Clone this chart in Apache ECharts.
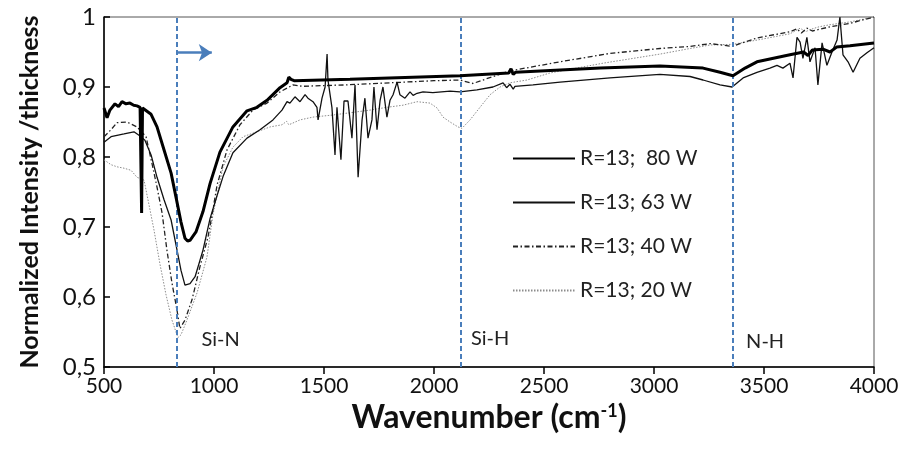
<!DOCTYPE html>
<html>
<head>
<meta charset="utf-8">
<script src="https://cdn.jsdelivr.net/npm/echarts@6/dist/echarts.min.js"></script>
<style>
html, body { margin: 0; padding: 0; background: #fff; }
#chart { width: 906px; height: 457px; }
</style>
</head>
<body>
<div id="chart"></div>
<script>
// 光譜數據 [波數, 強度]
var s80 = [
    [500,0.870],[514,0.856],[527,0.867],[550,0.876],[566,0.872],[582,0.879],[600,0.876],[618,0.877],
    [635,0.874],[650,0.873],[664,0.871],[668,0.870],[671,0.720],[675,0.870],[682,0.869],[714,0.861],
    [741,0.843],[773,0.810],[805,0.777],[827,0.743],[850,0.707],[868,0.684],[880,0.680],[891,0.681],
    [918,0.693],[950,0.722],[982,0.762],[1027,0.807],[1086,0.843],[1150,0.866],[1195,0.871],[1241,0.881],
    [1300,0.899],[1332,0.906],[1340,0.914],[1350,0.911],[1364,0.909],[1618,0.911],[2118,0.916],[2340,0.920],
    [2350,0.926],[2360,0.918],[2370,0.921],[2755,0.927],[3027,0.930],[3223,0.927],[3300,0.921],[3359,0.916],
    [3414,0.927],[3468,0.936],[3618,0.946],[3680,0.950],[3700,0.945],[3720,0.953],[3768,0.954],[3800,0.950],
    [3830,0.957],[3891,0.959],[4000,0.963]
];
var s63 = [
    [500,0.821],[532,0.829],[559,0.831],[591,0.833],[636,0.836],[659,0.831],[686,0.824],[714,0.803],
    [741,0.771],[773,0.739],[805,0.710],[832,0.667],[850,0.638],[868,0.617],[891,0.619],[914,0.629],
    [950,0.667],[982,0.712],[1014,0.745],[1041,0.772],[1086,0.806],[1150,0.827],[1209,0.839],[1268,0.853],
    [1309,0.867],[1332,0.879],[1345,0.877],[1368,0.886],[1391,0.879],[1414,0.889],[1427,0.884],[1450,0.879],
    [1468,0.871],[1473,0.853],[1491,0.884],[1505,0.900],[1514,0.947],[1518,0.910],[1536,0.871],[1550,0.803],
    [1559,0.871],[1577,0.796],[1591,0.880],[1609,0.880],[1627,0.827],[1641,0.903],[1655,0.771],[1673,0.853],
    [1686,0.884],[1700,0.827],[1718,0.853],[1727,0.900],[1741,0.839],[1755,0.881],[1768,0.900],[1786,0.857],
    [1800,0.881],[1814,0.889],[1832,0.907],[1845,0.889],[1868,0.884],[1891,0.893],[1905,0.888],[1923,0.891],
    [1950,0.893],[1995,0.892],[2073,0.894],[2118,0.893],[2195,0.896],[2268,0.900],[2314,0.906],[2330,0.899],
    [2345,0.904],[2360,0.897],[2368,0.901],[2450,0.903],[2573,0.907],[2800,0.913],[3027,0.918],[3164,0.915],
    [3223,0.910],[3300,0.903],[3355,0.900],[3405,0.913],[3468,0.921],[3527,0.927],[3559,0.931],[3586,0.927],
    [3618,0.934],[3632,0.913],[3650,0.971],[3664,0.964],[3677,0.941],[3695,0.971],[3709,0.936],[3732,0.956],
    [3745,0.903],[3764,0.963],[3786,0.931],[3809,0.950],[3832,0.967],[3845,1.000],[3859,0.946],[3882,0.936],
    [3905,0.921],[3936,0.941],[3968,0.949],[4000,0.956]
];
var s40 = [
    [500,0.829],[532,0.839],[559,0.849],[605,0.850],[650,0.843],[691,0.829],[718,0.791],[741,0.757],
    [764,0.720],[786,0.667],[809,0.620],[832,0.581],[845,0.555],[868,0.567],[900,0.596],[936,0.643],
    [973,0.686],[991,0.717],[1014,0.760],[1059,0.810],[1118,0.846],[1177,0.867],[1241,0.877],[1300,0.893],
    [1359,0.903],[1400,0.901],[1600,0.903],[1800,0.906],[2000,0.909],[2118,0.910],[2177,0.905],[2250,0.913],
    [2345,0.923],[2573,0.936],[2800,0.948],[3027,0.955],[3164,0.958],[3255,0.962],[3355,0.958],[3400,0.963],
    [3468,0.970],[3618,0.979],[3650,0.983],[3670,0.977],[3695,0.984],[3720,0.980],[3800,0.986],[3891,0.991],
    [4000,1.000]
];
var s20 = [
    [500,0.796],[532,0.789],[559,0.786],[591,0.784],[623,0.781],[650,0.771],[682,0.767],[705,0.731],
    [727,0.696],[755,0.646],[782,0.603],[809,0.567],[836,0.542],[850,0.546],[877,0.567],[923,0.606],
    [968,0.657],[995,0.717],[1041,0.786],[1086,0.814],[1132,0.829],[1195,0.836],[1255,0.843],[1309,0.846],
    [1330,0.851],[1340,0.846],[1391,0.853],[1450,0.857],[1541,0.860],[1709,0.867],[1786,0.871],[1859,0.874],
    [1923,0.879],[1982,0.877],[2014,0.870],[2041,0.857],[2073,0.850],[2109,0.843],[2127,0.841],[2164,0.853],
    [2209,0.871],[2255,0.889],[2300,0.900],[2345,0.906],[2423,0.910],[2527,0.920],[2768,0.934],[3027,0.947],
    [3164,0.955],[3255,0.960],[3359,0.961],[3468,0.967],[3618,0.976],[3664,0.984],[3690,0.979],[3709,0.982],
    [3750,0.986],[3800,0.989],[3891,0.993],[4000,1.000]
];
var seriesNames = ['R=13;  80 W', 'R=13; 63 W', 'R=13; 40 W', 'R=13; 20 W'];

// 吸收帶位置與標籤
var bandPos = [830, 2120, 3360];
var bandLabelNames = ['Si-N', 'Si-H', 'N-H'];
var bandLabelX = [1030, 2255, 3505];
var bandLabelY = [0.539, 0.541, 0.536];
var arrowFrom = [830, 0.949];
var arrowTo = [990, 0.949];

var FONT = 'Lato, "Open Sans", sans-serif';
var BLUE = '#4a7ebb';

var chart = echarts.init(document.getElementById('chart'));

var bandLines = bandPos.map(function (x) { return { xAxis: x }; });
var bandLabels = bandLabelNames.map(function (n, i) {
    return { name: n, coord: [bandLabelX[i], bandLabelY[i]] };
});

var option = {
    animation: false,
    backgroundColor: '#fff',
    grid: {
        left: 104, right: 32, top: 17, bottom: 90,
        show: true, borderColor: '#555', borderWidth: 1
    },
    legend: {
        orient: 'vertical',
        left: 507, top: 143,
        itemWidth: 62, itemHeight: 14, itemGap: 23,
        data: seriesNames,
        itemStyle: { opacity: 0 },
        textStyle: { fontFamily: FONT, fontSize: 21, color: '#222' }
    },
    xAxis: {
        type: 'value',
        min: 500, max: 4000, interval: 500,
        name: 'Wavenumber (cm{sup|-1})',
        nameLocation: 'middle',
        nameGap: 29,
        nameTextStyle: {
            fontFamily: FONT, fontSize: 32, fontWeight: 'bold', color: '#111',
            rich: { sup: { fontFamily: FONT, fontSize: 18, fontWeight: 'bold', verticalAlign: 'top', color: '#111' } }
        },
        axisLine: { lineStyle: { color: '#000', width: 1.5 } },
        axisTick: { inside: false, length: 7, lineStyle: { color: '#000', width: 1.5 } },
        axisLabel: {
            margin: 9, fontFamily: FONT, fontSize: 21, color: '#111',
            formatter: function (v) { return String(v); }
        },
        splitLine: { show: false }
    },
    yAxis: {
        type: 'value',
        min: 0.5, max: 1, interval: 0.1,
        name: 'Normalized Intensity /thickness',
        nameLocation: 'middle',
        nameGap: 62,
        nameTextStyle: { fontFamily: FONT, fontSize: 25, fontWeight: 'bold', color: '#111' },
        axisLine: { lineStyle: { color: '#000', width: 1.5 } },
        axisTick: { inside: true, length: 6, lineStyle: { color: '#000', width: 1.5 } },
        axisLabel: {
            margin: 8, fontFamily: FONT, fontSize: 24, color: '#111',
            formatter: function (v) {
                if (Math.abs(v - 1) < 1e-9) return '1';
                return v.toFixed(1).replace('.', ',');
            }
        },
        splitLine: { show: false }
    },
    series: [
        {
            name: seriesNames[0], type: 'line', data: s80, symbol: 'none', z: 5,
            lineStyle: { color: '#000', width: 3 }, itemStyle: { color: '#000' },
            markLine: {
                silent: true, symbol: ['none', 'none'],
                label: { show: false },
                lineStyle: { color: BLUE, width: 2, type: [5, 3] },
                data: bandLines
            }
        },
        {
            name: seriesNames[1], type: 'line', data: s63, symbol: 'none', z: 4,
            lineStyle: { color: '#111', width: 1.3 }, itemStyle: { color: '#111' },
            markLine: {
                silent: true, symbol: ['none', 'arrow'], symbolSize: 13,
                label: { show: false },
                lineStyle: { color: BLUE, width: 2.5, type: 'solid' },
                data: [[{ coord: arrowFrom }, { coord: arrowTo }]]
            }
        },
        {
            name: seriesNames[2], type: 'line', data: s40, symbol: 'none', z: 3,
            lineStyle: { color: '#222', width: 1.3, type: [5, 2.5, 1.5, 2.5] }, itemStyle: { color: '#222' },
            markPoint: {
                silent: true, symbol: 'rect', symbolSize: 1,
                itemStyle: { color: 'rgba(0,0,0,0)' },
                label: { show: true, position: 'inside', formatter: '{b}', fontFamily: FONT, fontSize: 20, color: '#222' },
                data: bandLabels
            }
        },
        {
            name: seriesNames[3], type: 'line', data: s20, symbol: 'none', z: 2,
            lineStyle: { color: '#8c8c8c', width: 1, type: [1.5, 1.5] }, itemStyle: { color: '#8c8c8c' }
        }
    ]
};
chart.setOption(option);
</script>
</body>
</html>
